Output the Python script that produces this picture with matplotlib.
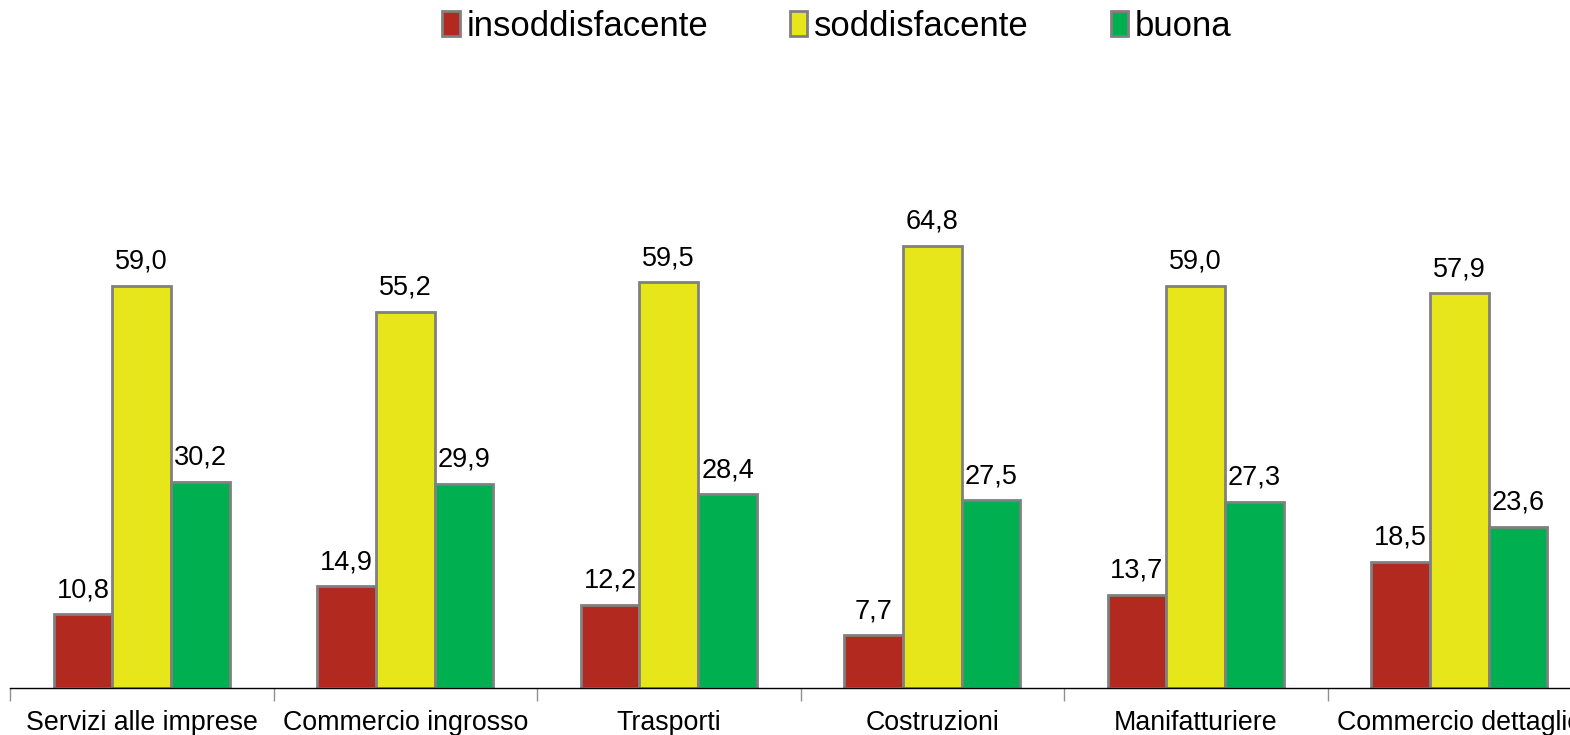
import matplotlib
matplotlib.use("Agg")
import matplotlib.pyplot as plt
import numpy as np

categories = ["Servizi alle imprese", "Commercio ingrosso", "Trasporti",
              "Costruzioni", "Manifatturiere", "Commercio dettaglio"]
series_names = ["insoddisfacente", "soddisfacente", "buona"]
insoddisfacente = [10.8, 14.9, 12.2, 7.7, 13.7, 18.5]
soddisfacente = [59.0, 55.2, 59.5, 64.8, 59.0, 57.9]
buona = [30.2, 29.9, 28.4, 27.5, 27.3, 23.6]
colors = ["#B22A1F", "#E6E61A", "#00AF50"]

plt.rcParams['font.family'] = ['Liberation Sans', 'DejaVu Sans']

fig = plt.figure(figsize=(15.7, 7.35), dpi=100)
ax = fig.add_axes([10/1570, 47/735, 1581/1570, (70*6.82)/735])

x = np.arange(len(categories))
w = 0.223
data = [insoddisfacente, soddisfacente, buona]
for i, (vals, c, name) in enumerate(zip(data, colors, series_names)):
    bars = ax.bar(x + (i - 1) * w, vals, width=w, color=c, edgecolor="#808080",
                  linewidth=2.0, label=name, zorder=2)
    for b, v in zip(bars, vals):
        ax.annotate(f"{v:.1f}".replace(".", ","),
                    (b.get_x() + b.get_width() / 2, v),
                    xytext=(0, 8), textcoords="offset points",
                    ha="center", va="bottom", fontsize=19.5)

ax.set_xlim(-0.5, len(categories) - 0.5)
ax.set_ylim(0, 70)
ax.set_yticks([])
for s in ["left", "right", "top"]:
    ax.spines[s].set_visible(False)
ax.spines["bottom"].set_linewidth(1.0)
ax.set_xticks(x)
ax.set_xticklabels(categories, fontsize=19.3)
ax.tick_params(axis="x", which="major", length=0, pad=16)
ax.set_xticks(np.arange(-0.5, len(categories), 1.0), minor=True)
ax.tick_params(axis="x", which="minor", length=9, width=1.0, color="#909090")

leg = fig.legend(loc="center", bbox_to_anchor=(837/1570, 1 - 26/735), ncol=3,
                 frameon=False, fontsize=25, handlelength=0.5, handleheight=0.7,
                 handletextpad=0.2, columnspacing=2.35)

fig.savefig("out.png", dpi=100)
